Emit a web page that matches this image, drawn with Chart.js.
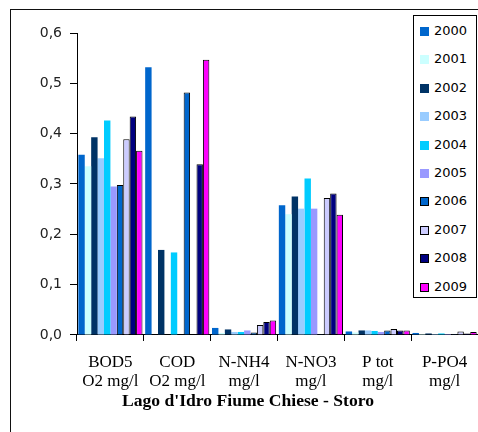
<!DOCTYPE html>
<html>
<head>
<meta charset="utf-8">
<script src="https://cdn.jsdelivr.net/npm/chart.js@4/dist/chart.umd.min.js"></script>
<style>
  html, body { margin: 0; padding: 0; overflow: hidden; background: #fff; width: 478px; height: 432px; }
  #wrap { position: relative; width: 496px; height: 445px; }
  #chart { position: absolute; left: 0; top: 0; }
  #legend { position: absolute; left: 413px; top: 15px; width: 62px; height: 281px;
            border: 1px solid #000; background: #fff;
            font: 13px "DejaVu Sans", sans-serif; color: #000; }
  .item { position: absolute; left: 0; width: 62px; height: 16px; line-height: 16px; }
  .sw { position: absolute; left: 6px; top: 4px; width: 9px; height: 9px; box-sizing: border-box; }
  .lbl { position: absolute; left: 20px; top: 0; }
</style>
</head>
<body>
<div id="wrap">
  <canvas id="chart" width="496" height="445"></canvas>
  <div id="legend"></div>
</div>
<script>
// Parameters (two-line axis labels)
const categories = [
  ['BOD5', 'O2 mg/l'],
  ['COD', 'O2 mg/l'],
  ['N-NH4', 'mg/l'],
  ['N-NO3', 'mg/l'],
  ['P tot', 'mg/l'],
  ['P-PO4', 'mg/l']
];

const years = ['2000', '2001', '2002', '2003', '2004', '2005', '2006', '2007', '2008', '2009'];

// Yearly mean values per parameter
const v2000 = [0.358, 0.532, 0.014, 0.258, 0.007, 0.004];
const v2001 = [0.335, null,  0.004, 0.240, 0.005, 0.002];
const v2002 = [0.393, 0.169, 0.011, 0.275, 0.009, 0.003];
const v2003 = [0.351, null,  0.006, 0.251, 0.009, 0.002];
const v2004 = [0.426, 0.164, 0.006, 0.311, 0.008, 0.003];
const v2005 = [0.295, null,  0.009, 0.251, 0.006, 0.002];
const v2006 = [0.298, 0.482, 0.005, 0.002, 0.009, 0.002];
const v2007 = [0.389, null,  0.020, 0.272, 0.012, 0.007];
const v2008 = [0.434, 0.339, 0.026, 0.281, 0.009, 0.003];
const v2009 = [0.366, 0.547, 0.029, 0.239, 0.009, 0.006];

const yTicks = [0, 0.1, 0.2, 0.3, 0.4, 0.5, 0.6];

const seriesValues = [v2000, v2001, v2002, v2003, v2004, v2005, v2006, v2007, v2008, v2009];
const fills = ['#0066CC', '#CCFFFF', '#003366', '#99CCFF', '#00CCFF',
               '#9999FF', '#0066CC', '#CCCCFF', '#000080', '#FF00FF'];
const outlined = [false, false, false, false, false, false, true, true, true, true];

const datasets = years.map((y, i) => ({
  label: y,
  data: seriesValues[i],
  backgroundColor: fills[i],
  borderColor: '#000',
  borderWidth: outlined[i] ? 1 : 0,
  categoryPercentage: 0.96,
  barPercentage: 1.0
}));

// Outer frame around the whole chart
const framePlugin = {
  id: 'frame',
  beforeDraw(chart) {
    const ctx = chart.ctx;
    ctx.save();
    ctx.fillStyle = '#fff';
    ctx.fillRect(0, 0, chart.width, chart.height);
    ctx.strokeStyle = '#111';
    ctx.lineWidth = 1;
    ctx.strokeRect(10.5, 9.5, chart.width + 20, chart.height + 20);
    ctx.restore();
  }
};

new Chart(document.getElementById('chart'), {
  type: 'bar',
  data: { labels: categories, datasets },
  plugins: [framePlugin],
  options: {
    responsive: false,
    animation: false,
    devicePixelRatio: 1,
    layout: { padding: { left: 18, right: 18, top: 33, bottom: 0 } },
    plugins: {
      legend: { display: false },
      tooltip: { enabled: false },
      title: {
        display: true,
        position: 'bottom',
        text: "Lago d'Idro Fiume Chiese - Storo",
        color: '#000',
        font: { family: '"Liberation Serif", serif', size: 17.6, weight: 'bold', lineHeight: 1.2 },
        padding: { top: 0, bottom: 32.9 }
      }
    },
    scales: {
      x: {
        grid: { display: true, drawOnChartArea: false, drawTicks: true, tickLength: 6, color: '#000', offset: true },
        border: { display: true, color: '#000', width: 1 },
        ticks: {
          color: '#000', padding: 12, maxRotation: 0, autoSkip: false,
          font: { family: '"Liberation Serif", serif', size: 17, lineHeight: 1.12 }
        },
        afterFit(s) { s.height = 56; }
      },
      y: {
        min: 0, max: 0.6,
        afterBuildTicks(s) { s.ticks = yTicks.map(v => ({ value: v })); },
        ticks: {
          color: '#222', padding: 8,
          font: { family: '"DejaVu Sans", sans-serif', size: 14 },
          callback: v => Number(v).toFixed(1).replace('.', ',')
        },
        grid: { drawOnChartArea: false, drawTicks: true, tickLength: 7, color: '#000' },
        border: { display: true, color: '#000', width: 1 },
        afterFit(s) { s.width = 59; }
      }
    }
  }
});

// Legend box listing each year with its bar colour
const legend = document.getElementById('legend');
years.forEach((y, i) => {
  const item = document.createElement('div');
  item.className = 'item';
  item.style.top = (7 + i * 28.4) + 'px';
  const sw = document.createElement('span');
  sw.className = 'sw';
  sw.style.background = fills[i];
  if (outlined[i]) sw.style.border = '1px solid #000';
  const lbl = document.createElement('span');
  lbl.className = 'lbl';
  lbl.textContent = y;
  item.appendChild(sw);
  item.appendChild(lbl);
  legend.appendChild(item);
});
</script>
</body>
</html>
